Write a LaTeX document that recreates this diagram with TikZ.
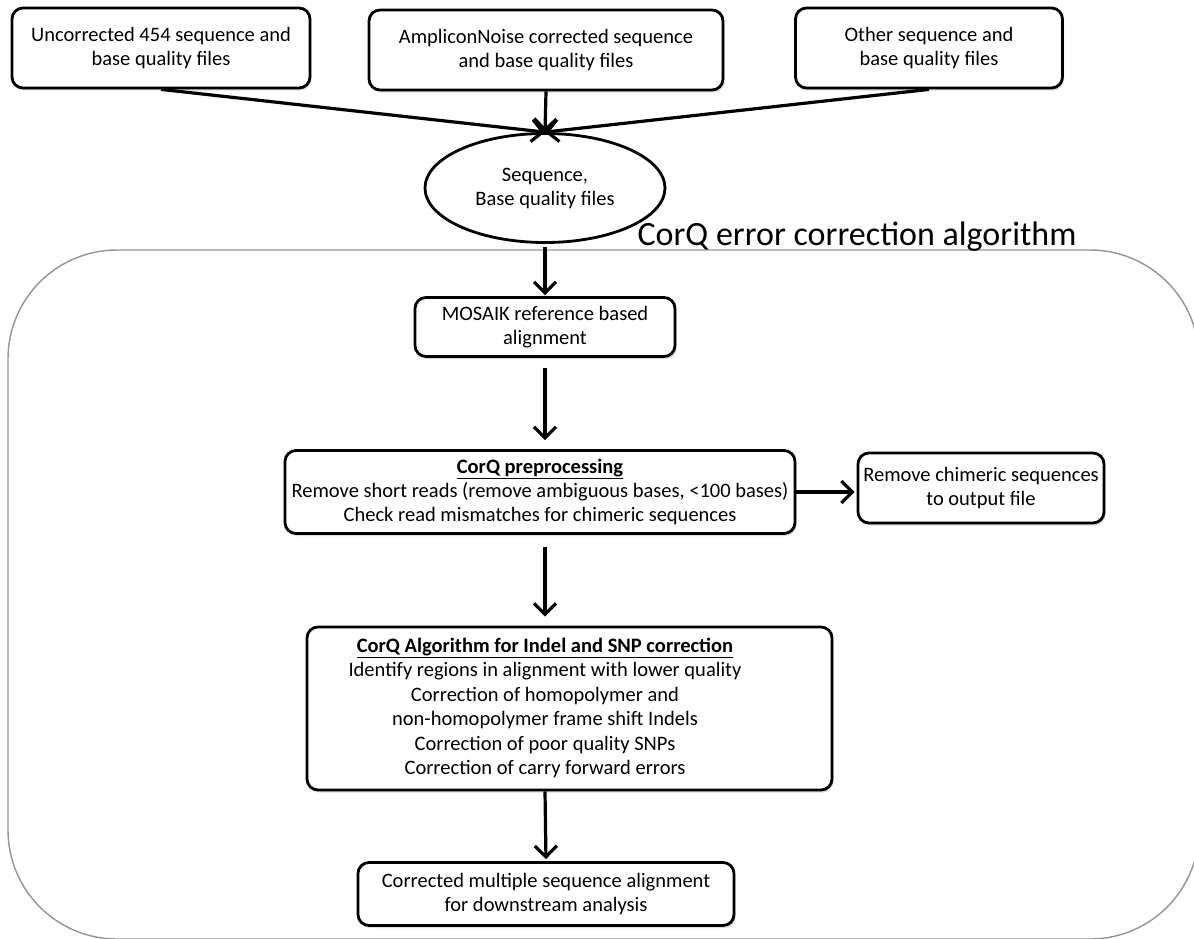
\documentclass[tikz,border=0pt]{standalone}
\usepackage{fontspec}
\setmainfont{Carlito}
\usetikzlibrary{arrows.meta,shapes.geometric,calc,shadows}
\tikzset{
  flowbox/.style={draw, line width=2.8pt, rounded corners=11pt, fill=white, align=center,
    font=\fontsize{20.5}{24}\selectfont, inner sep=0pt,
    drop shadow={shadow xshift=1.5pt, shadow yshift=-2.5pt, opacity=0.3, fill=black!45}},
  flowell/.style={draw, ellipse, line width=2.8pt, fill=white, align=center,
    font=\fontsize{20.5}{24}\selectfont, inner sep=0pt},
  txt/.style={align=center, font=\fontsize{20.5}{24.4}\selectfont, inner sep=0pt},
  arr/.style={line width=3.2pt, -{Straight Barb[length=11pt,width=22pt]}},
  container/.style={draw=black!42, line width=1.4pt, rounded corners=109pt}
}
\begin{document}
\begin{tikzpicture}[x=1pt,y=-1pt]
\useasboundingbox (0,0) rectangle (1194,938);
\clip (0,0) rectangle (1194,938);
\fill[white] (0,0) rectangle (1194,938);
\draw[container] (8,250) rectangle (1199,939);
\node[font=\fontsize{34}{40}\selectfont, inner sep=0pt, anchor=base] (title) at (857,245) {CorQ error correction algorithm};

\node[flowbox, minimum width=298pt, minimum height=80pt] (b1) at (161,48) {Uncorrected 454 sequence and\\base quality files};
\node[flowbox, minimum width=354pt, minimum height=80pt] (b2) at (546,50) {AmpliconNoise corrected sequence\\and base quality files};
\node[flowbox, minimum width=267pt, minimum height=80pt] (b3) at (929,48) {Other sequence and\\base quality files};
\node[flowell, minimum width=240pt, minimum height=109pt] (ell) at (545,188) {Sequence,\\Base quality files};

\node[flowbox, minimum width=260pt, minimum height=59pt] (mos) at (545,327) {MOSAIK reference based\\alignment};
\node[flowbox, minimum width=510pt, minimum height=83pt] (pre) at (540,492) {\underline{\textbf{CorQ preprocessing}}\\Remove short reads (remove ambiguous bases, {<}100 bases)\\Check read mismatches for chimeric sequences};
\node[flowbox, minimum width=246pt, minimum height=70pt] (chim) at (981,488) {Remove chimeric sequences\\to output file};
\node[flowbox, minimum width=525pt, minimum height=163pt] (algo) at (569.5,708.5) {};
\node[txt] (algotxt) at (545,708) {\underline{\textbf{CorQ Algorithm for Indel and SNP correction}}\\Identify regions in alignment with lower quality\\Correction of homopolymer and\\non-homopolymer frame shift Indels\\Correction of poor quality SNPs\\Correction of carry forward errors};
\node[flowbox, minimum width=376pt, minimum height=63pt] (fin) at (546,894) {Corrected multiple sequence alignment\\for downstream analysis};

\draw[arr] (b1.south) -- (ell.north);
\draw[arr] (b2.south) -- (ell.north);
\draw[arr] (b3.south) -- (ell.north);
\draw[arr, shorten <=3pt, shorten >=1pt] (ell.south) -- (mos.north);
\draw[arr, shorten <=10pt, shorten >=9pt] (mos.south) -- (mos.south |- pre.north);
\draw[arr, shorten <=12pt, shorten >=9pt] (mos.south |- pre.south) -- (mos.south |- algo.north);
\draw[arr, shorten >=2pt] (mos.south |- algo.south) -- (fin.north);
\draw[arr, shorten >=2pt] (pre.east) -- (pre.east -| chim.west);
\end{tikzpicture}
\end{document}
